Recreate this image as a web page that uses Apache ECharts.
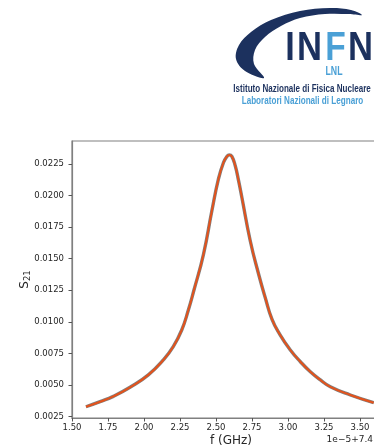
<!DOCTYPE html>
<html>
<head>
<meta charset="utf-8">
<script src="https://cdn.jsdelivr.net/npm/echarts@6/dist/echarts.min.js"></script>
<style>
  html, body { margin: 0; padding: 0; background: #fff; }
  #chart { width: 374px; height: 447px; }
</style>
</head>
<body>
<div id="chart"></div>
<script>
/* ===== S21 resonance ===== */

// frequency axis values shown as f offset (x 1e-5 GHz, +7.4)
const freq = [1.597, 1.695, 1.787, 1.903, 2.030, 2.134, 2.203, 2.262, 2.308, 2.347,
              2.413, 2.471, 2.517, 2.552, 2.576, 2.592, 2.610, 2.634, 2.657, 2.680,
              2.738, 2.796, 2.842, 2.889, 2.946, 3.016, 3.086, 3.155, 3.225, 3.294,
              3.433, 3.595];
const s21 = [0.00328, 0.00368, 0.00410, 0.00482, 0.00580, 0.00698, 0.00803, 0.00935, 0.01093, 0.01251,
             0.01534, 0.01876, 0.02130, 0.02260, 0.02308, 0.02320, 0.02308, 0.02232, 0.02114, 0.01981,
             0.01639, 0.01376, 0.01191, 0.01020, 0.00895, 0.00777, 0.00684, 0.00605, 0.00540, 0.00486,
             0.00421, 0.00360];

const xTicks = [1.5, 1.75, 2.0, 2.25, 2.5, 2.75, 3.0, 3.25, 3.5];
const yTicks = [0.0025, 0.005, 0.0075, 0.01, 0.0125, 0.015, 0.0175, 0.02, 0.0225];

const AXIS_GREY = "#808080";
const TEXT = "#262626";
const FONT = "DejaVu Sans";

// logo colours / font
const NAVY = "#1c315e";
const LIGHT = "#4aa0d6";
const LOGO_FONT = "'Liberation Sans Narrow', 'Liberation Sans', sans-serif";

const ctx = document.createElement("canvas").getContext("2d");
function fitScale(text, size, width) {
    ctx.font = `bold ${size}px ${LOGO_FONT}`;
    return width / ctx.measureText(text).width;
}

function logoText(text, x, y, size, width, color, align) {
    return {
        type: "text",
        x: x, y: y,
        scaleX: fitScale(text, size, width),
        style: {
            text: text, fill: color,
            fontSize: size, fontWeight: "bold", fontFamily: LOGO_FONT,
            align: align || "left", verticalAlign: "middle",
        },
    };
}

// crescent swoosh of the logo
const swoosh = [
    [264, 78], [245, 71], [236, 59], [239, 45], [251, 32], [271, 20], [300, 11],
    [330, 8], [351, 10], [362, 15],
    [349, 14], [325, 14], [300, 18], [281, 26], [265, 37], [255, 50], [254, 64],
];

const chart = echarts.init(document.getElementById("chart"), null, { renderer: "canvas" });
chart.setOption({
    animation: false,
    grid: {
        left: 72, top: 141, right: -1, bottom: 29,
        show: true, borderColor: AXIS_GREY, borderWidth: 1.2,
        containLabel: false, outerBoundsMode: "none",
    },
    xAxis: {
        type: "value", min: 1.5, max: 3.604,
        axisLine: { show: true, onZero: false, lineStyle: { color: AXIS_GREY, width: 1.2 } },
        axisTick: { show: true, customValues: xTicks, length: 3.5, lineStyle: { color: "#555" } },
        axisLabel: {
            customValues: xTicks, formatter: v => v.toFixed(2),
            fontSize: 8.5, fontFamily: FONT, color: TEXT, margin: 5,
        },
        splitLine: { show: false },
    },
    yAxis: {
        type: "value", min: 0.00239, max: 0.0243,
        axisLine: { show: true, onZero: false, lineStyle: { color: AXIS_GREY, width: 1.2 } },
        axisTick: { show: true, customValues: yTicks, length: 3.5, lineStyle: { color: "#555" } },
        axisLabel: {
            customValues: yTicks, formatter: v => v.toFixed(4),
            fontSize: 8.5, fontFamily: FONT, color: TEXT, margin: 8,
        },
        splitLine: { show: false },
        name: "{s|S}{sub|21}",
        nameLocation: "middle",
        nameGap: 40,
        nameMoveOverlap: false,
        nameTextStyle: {
            rich: {
                s: { fontSize: 12, fontFamily: FONT, color: TEXT, lineHeight: 14 },
                sub: { fontSize: 8.5, fontFamily: FONT, color: TEXT, lineHeight: 7, verticalAlign: "bottom" },
            },
        },
    },
    series: [
        {
            type: "line", data: freq.map((f, i) => [f, s21[i]]),
            showSymbol: false, smooth: 0.5,
            lineStyle: { color: AXIS_GREY, width: 3.4 },
        },
        {
            type: "line", data: freq.map((f, i) => [f, s21[i]]),
            showSymbol: false, smooth: 0.5,
            lineStyle: { color: "#e4521b", width: 2 },
        },
    ],
    graphic: [
        {
            type: "text", x: 231, y: 441,
            style: { text: "f (GHz)", fontSize: 12, fontFamily: FONT, fill: TEXT, align: "center", verticalAlign: "middle" },
        },
        {
            type: "text", x: 373, y: 440,
            style: { text: "1e\u22125+7.4", fontSize: 9, fontFamily: FONT, fill: TEXT, align: "right", verticalAlign: "middle" },
        },
        // INFN logo
        { type: "polygon", shape: { points: swoosh, smooth: 0.35 }, style: { fill: NAVY } },
        logoText("I", 290, 49, 41, 9.5, NAVY, "center"),
        logoText("N", 309.5, 49, 41, 25, NAVY, "center"),
        logoText("F", 335.5, 49, 41, 20.5, LIGHT, "center"),
        logoText("N", 360.5, 49, 41, 25, NAVY, "center"),
        logoText("LNL", 334, 71.5, 12.5, 17, LIGHT, "center"),
        logoText("Istituto Nazionale di Fisica Nucleare", 233.3, 89, 10.5, 137.5, NAVY),
        logoText("Laboratori Nazionali di Legnaro", 241.7, 101.5, 10.5, 121.6, LIGHT),
    ],
});
</script>
</body>
</html>
